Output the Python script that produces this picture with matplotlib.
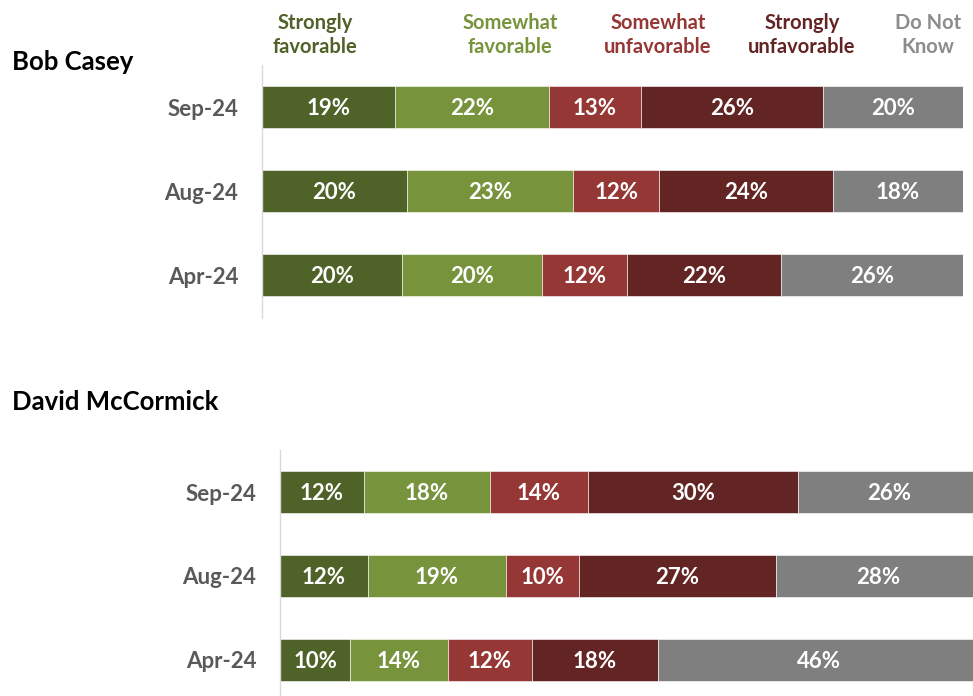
import numpy as np
import matplotlib.pyplot as plt

plt.rcParams['font.family'] = ['Lato', 'DejaVu Sans']

categorias = ['Strongly\nfavorable', 'Somewhat\nfavorable', 'Somewhat\nunfavorable',
              'Strongly\nunfavorable', 'Do Not\nKnow']
colores = ['#4f6228', '#77933c', '#953735', '#632523', '#7f7f7f']
colores_texto = ['#4f6228', '#77933c', '#953735', '#632523', '#8c8c8c']

fechas = ['Sep-24', 'Aug-24', 'Apr-24']

casey = [[19, 22, 13, 26, 20],
         [20, 23, 12, 24, 18],
         [20, 20, 12, 22, 26]]

mccormick = [[12, 18, 14, 30, 26],
             [12, 19, 10, 27, 28],
             [10, 14, 12, 18, 46]]

W, H = 973, 696
fig = plt.figure(figsize=(W / 100, H / 100), dpi=100)


def panel(x0, x1, y_top, y_bot, y_sep):
    # ejes en pixeles de la figura; el centro de Sep-24 esta en y_sep
    ax = fig.add_axes([x0 / W, 1 - y_bot / H, (x1 - x0) / W, (y_bot - y_top) / H])
    ax.set_ylim((y_bot - y_sep) / 84, (y_top - y_sep) / 84)
    ax.set_xlim(0, 100)
    return ax


def dibujar(ax, datos):
    datos = np.array(datos, dtype=float)
    pct = datos / datos.sum(axis=1, keepdims=True) * 100  # barras al 100%
    izq = np.zeros(len(fechas))
    y = np.arange(len(fechas))
    for j in range(len(categorias)):
        ax.barh(y, pct[:, j], left=izq, height=0.51, color=colores[j],
                edgecolor='white', linewidth=0.4)
        for i in range(len(fechas)):
            ax.text(izq[i] + pct[i, j] / 2, y[i] + 0.02, f'{int(datos[i, j])}%',
                    ha='center', va='center', color='white', fontsize=16,
                    fontweight='bold')
        izq += pct[:, j]
    ax.set_yticks(y)
    ax.set_yticklabels(fechas, fontsize=16, fontweight='bold', color='#595959')
    ax.tick_params(axis='y', length=0, pad=17)
    ax.set_xticks([])
    for s in ['top', 'right', 'bottom']:
        ax.spines[s].set_visible(False)
    ax.spines['left'].set_color('#d9d9d9')
    ax.spines['left'].set_linewidth(1)


ax1 = panel(262, 963, 65, 318, 107)
dibujar(ax1, casey)

ax2 = panel(280, 980, 450, 700, 492)
dibujar(ax2, mccormick)

# encabezados de las categorias
pos_x = [315, 510, 658, 802, 928]
for t, x, c in zip(categorias, pos_x, colores_texto):
    fig.text(x / W, 1 - 35 / H, t, ha='center', va='center', color=c,
             fontsize=14.5, fontweight='bold', linespacing=1.2)

fig.text(12 / W, 1 - 62 / H, 'Bob Casey', ha='left', va='center',
         fontsize=18.5, fontweight='bold', color='black')
fig.text(12 / W, 1 - 402 / H, 'David McCormick', ha='left', va='center',
         fontsize=18.5, fontweight='bold', color='black')

fig.savefig('out.png', dpi=100)
